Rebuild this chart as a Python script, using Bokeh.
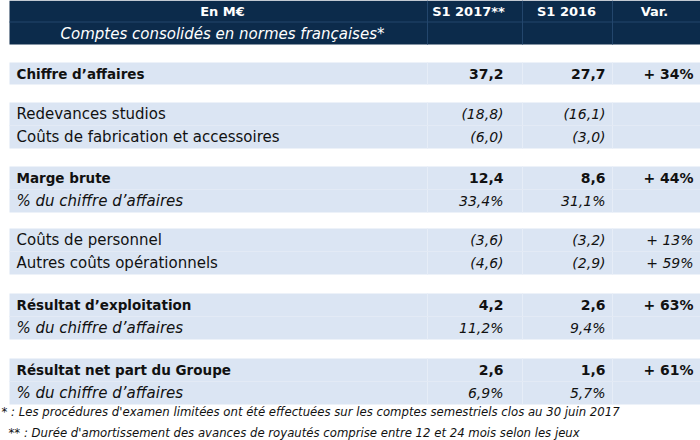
from bokeh.plotting import figure
from bokeh.models import Range1d, ColumnDataSource
from bokeh.core.properties import value
from bokeh.embed import file_html
from bokeh.resources import INLINE

# ---- data ----
header_cols = ["En M€", "S1 2017**", "S1 2016", "Var."]
header_sub = "Comptes consolidés en normes françaises*"
labels = ["Chiffre d’affaires",
          "Redevances studios", "Coûts de fabrication et accessoires",
          "Marge brute", "% du chiffre d’affaires",
          "Coûts de personnel", "Autres coûts opérationnels",
          "Résultat d’exploitation", "% du chiffre d’affaires",
          "Résultat net part du Groupe", "% du chiffre d’affaires"]
s1_2017 = ["37,2", "(18,8)", "(6,0)", "12,4", "33,4%", "(3,6)", "(4,6)", "4,2", "11,2%", "2,6", "6,9%"]
s1_2016 = ["27,7", "(16,1)", "(3,0)", "8,6", "31,1%", "(3,2)", "(2,9)", "2,6", "9,4%", "1,6", "5,7%"]
var = ["+ 34%", "", "", "+ 44%", "", "+ 13%", "+ 59%", "+ 63%", "", "+ 61%", ""]
row_kind = ["bold", "normal", "normal", "bold", "italic", "normal", "normal", "bold", "italic", "bold", "italic"]
groups = [[0], [1, 2], [3, 4], [5, 6], [7, 8], [9, 10]]
footnotes = ["* : Les procédures d'examen limitées ont été effectuées sur les comptes semestriels clos au 30 juin 2017",
             "** : Durée d'amortissement des avances de royautés comprise entre 12 et 24 mois selon les jeux"]

# ---- layout ----
FONT = "DejaVu Sans"
NAVY = "#0c2b4b"
BAND = "#dbe5f3"
TXT = "#111111"
X0, X1 = 9, 700
COL_DIV = [427, 522, 612]
COL_RIGHT = [503, 605, 693]
HEAD_CX = [222, 468, 566, 654]
ROW_H = 23
band_tops = [62, 102, 166, 228, 293, 358]
SIZES = {"bold": "13.5px", "normal": "15px", "italic": "15px"}

p = figure(width=700, height=440, output_backend="svg", toolbar_location=None,
           x_range=Range1d(0, 700), y_range=Range1d(440, 0),
           min_border=0, outline_line_color=None, background_fill_color="white")
p.axis.visible = False
p.grid.visible = False

# header
p.quad(left=[X0], right=[X1], top=[0], bottom=[44], fill_color=NAVY, line_color=None)
p.segment(x0=[X0], x1=[X1], y0=[21.5], y1=[21.5], line_color="#23466c", line_width=1)
p.segment(x0=COL_DIV, x1=COL_DIV, y0=[0] * 3, y1=[44] * 3, line_color="#23466c", line_width=1)
p.text(x=HEAD_CX, y=[11] * 4, text=header_cols, text_align="center", text_baseline="middle",
       text_color="white", text_font=value(FONT), text_font_style="bold", text_font_size="13px")
p.text(x=[HEAD_CX[0]], y=[33], text=[header_sub], text_align="center", text_baseline="middle",
       text_color="white", text_font=value(FONT), text_font_style="italic", text_font_size="15px")

# bands
row_y = {}
for g, top in zip(groups, band_tops):
    bottom = top + ROW_H * len(g) - (1 if len(g) == 1 else 0)
    p.quad(left=[X0], right=[X1], top=[top], bottom=[bottom], fill_color=BAND, line_color=None)
    p.segment(x0=COL_DIV, x1=COL_DIV, y0=[top] * 3, y1=[bottom] * 3, line_color="#e6edf7", line_width=1)
    if len(g) > 1:
        p.segment(x0=[X0], x1=[X1], y0=[top + ROW_H], y1=[top + ROW_H], line_color="#e3eaf5", line_width=1)
    for k, i in enumerate(g):
        row_y[i] = top + ROW_H * k + ROW_H / 2

for kind in ["bold", "normal", "italic"]:
    idx = [i for i in range(len(labels)) if row_kind[i] == kind]
    ys = [row_y[i] for i in idx]
    val_style = "bold" if kind == "bold" else "italic"
    src = ColumnDataSource(dict(y=ys, lab=[labels[i] for i in idx],
                                a=[s1_2017[i] for i in idx], b=[s1_2016[i] for i in idx],
                                v=[var[i] for i in idx]))
    p.text(x=16, y="y", text="lab", source=src, text_align="left", text_baseline="middle",
           text_color=TXT, text_font=value(FONT), text_font_style=kind, text_font_size=SIZES[kind])
    for col, xr in zip(["a", "b", "v"], COL_RIGHT):
        p.text(x=xr, y="y", text=col, source=src, text_align="right", text_baseline="middle",
               text_color=TXT, text_font=value(FONT), text_font_style=val_style,
               text_font_size="14px")

# footnotes
p.text(x=[1, 8], y=[411, 432], text=footnotes, text_align="left", text_baseline="middle",
       text_color=TXT, text_font=value(FONT), text_font_style="italic", text_font_size="11.7px")

open("out.html", "w").write(file_html(p, INLINE))
